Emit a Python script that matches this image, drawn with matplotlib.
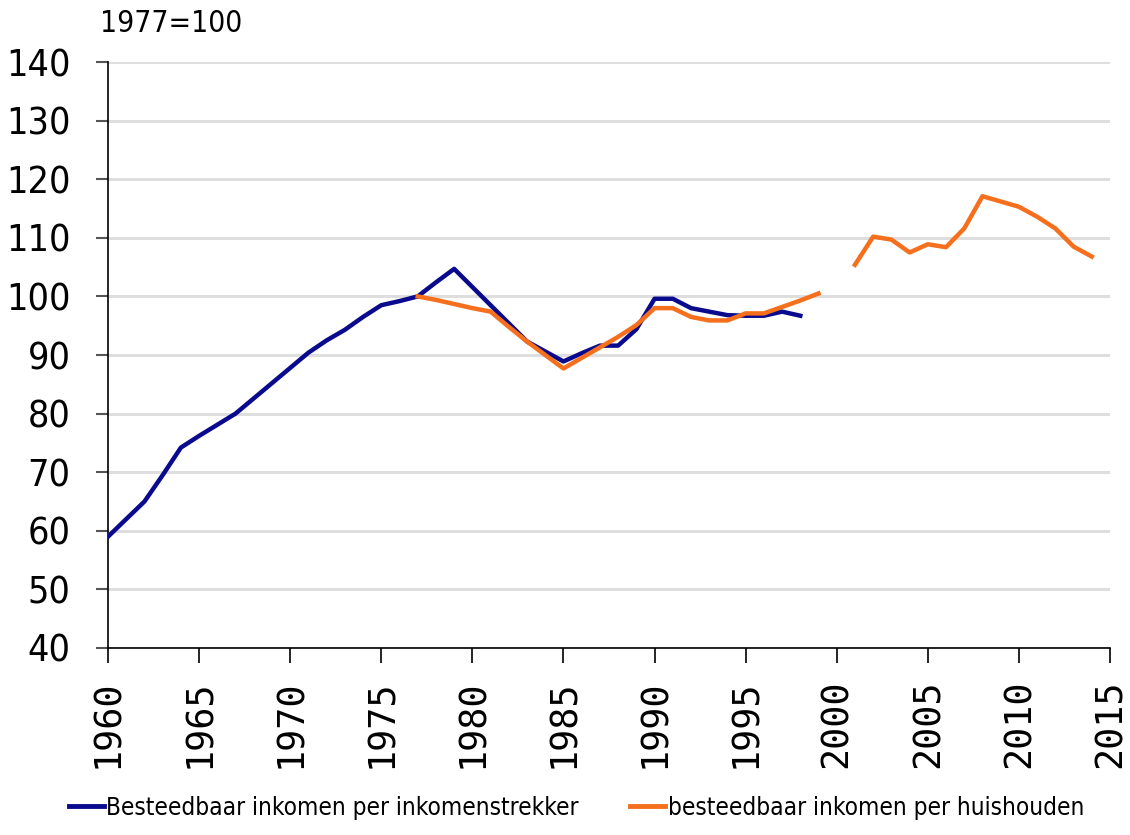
import numpy as np
import matplotlib
matplotlib.use('Agg')
import matplotlib.pyplot as plt
from matplotlib.lines import Line2D
from matplotlib.font_manager import FontProperties

# data (1977=100)
years_blue = list(range(1960, 1999))
blue = [59.0, 62.0, 65.0, 69.5, 74.2, 76.2, 78.1, 80.0, 82.6, 85.2,
        87.8, 90.4, 92.5, 94.3, 96.5, 98.5, 99.2, 100.0, 102.4, 104.7,
        101.6, 98.5, 95.4, 92.3, 90.6, 88.9, 90.3, 91.6, 91.6, 94.4,
        99.6, 99.6, 98.0, 97.4, 96.8, 96.7, 96.7, 97.4, 96.7]

years_orange = list(range(1977, 2015))
orange = [100.0, 99.4, 98.7, 98.0, 97.4, 94.8, 92.3, 90.0, 87.7, 89.5,
          91.3, 93.1, 95.1, 98.0, 98.0, 96.5, 95.9, 95.9, 97.1, 97.1,
          98.2, 99.3, 100.5, np.nan, 105.4, 110.2, 109.7, 107.5, 108.9, 108.4,
          111.6, 117.1, 116.2, 115.3, 113.6, 111.6, 108.5, 106.8]

label_blue = 'Besteedbaar inkomen per inkomenstrekker'
label_orange = 'besteedbaar inkomen per huishouden'
base_note = '1977=100'

c_blue = '#0a0a8e'
c_orange = '#f56f1c'


def cond(size):
    return FontProperties(family='DejaVu Sans', stretch='condensed', size=size)


mono = FontProperties(family='DejaVu Sans Mono', size=26.5)

fig = plt.figure(figsize=(11.3, 8.35), dpi=100)
ax = fig.add_axes([0.0956, 0.2240, 0.9823 - 0.0956, 0.9257 - 0.2240])

ax.plot(years_blue, blue, color=c_blue, lw=3.2, solid_joinstyle='round', zorder=3)
ax.plot(years_orange, orange, color=c_orange, lw=3.2, solid_joinstyle='round', zorder=4)

ax.set_xlim(1960, 2015)
ax.set_ylim(40, 140)
ax.set_xticks(range(1960, 2016, 5))
ax.set_yticks(range(40, 141, 10))
ax.yaxis.grid(True, color='#dedede', lw=2.2)
ax.set_axisbelow(True)

for s in ['top', 'right']:
    ax.spines[s].set_visible(False)
ax.spines['left'].set_color('black')
ax.spines['bottom'].set_color('black')
ax.spines['left'].set_linewidth(1.2)
ax.spines['bottom'].set_linewidth(1.2)

ax.tick_params(axis='y', direction='out', length=9, width=1.5, color='#555555', pad=18)
ax.tick_params(axis='x', direction='out', length=11, width=1.2, color='black', pad=12)

for t in ax.get_yticklabels():
    t.set_fontproperties(cond(27))
for t in ax.get_xticklabels():
    t.set_fontproperties(mono)
    t.set_rotation(90)

fig.text(100 / 1130, 1 - 24 / 835, base_note, fontproperties=cond(21.5),
         va='center', ha='left')

handles = [Line2D([], [], color=c_blue, lw=3.5), Line2D([], [], color=c_orange, lw=3.5)]
fig.legend(handles, [label_blue, label_orange], loc='center', ncol=2,
           bbox_to_anchor=(0.51, 1 - 808 / 835), frameon=False,
           prop=cond(17.5), handlelength=1.45,
           handletextpad=0.1, columnspacing=2.1)

fig.savefig('out.png', dpi=100)
